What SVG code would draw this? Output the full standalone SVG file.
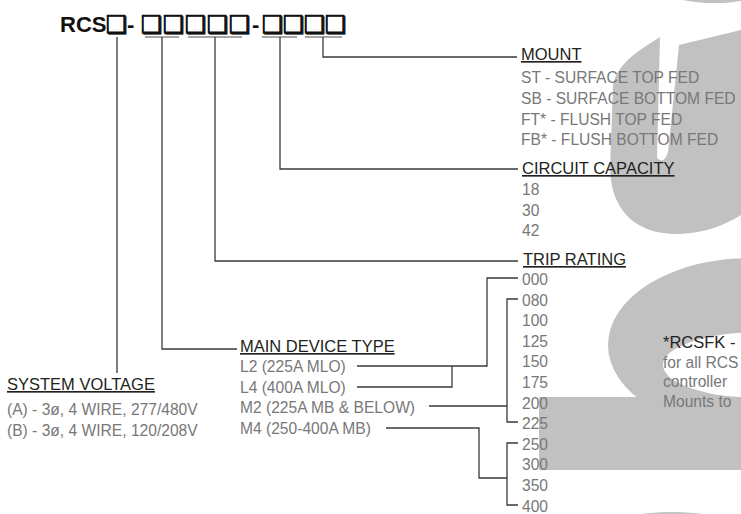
<svg xmlns="http://www.w3.org/2000/svg" width="741" height="514" viewBox="0 0 741 514">
<style>
.h{font-family:"Liberation Sans",Arial,sans-serif;font-size:16.5px;fill:#231f20;text-decoration:underline}
.i{font-family:"Liberation Sans",Arial,sans-serif;font-size:15.6px;fill:#787878}
.n{font-family:"Liberation Sans",Arial,sans-serif;font-size:16.5px;fill:#231f20}
.c{fill:none;stroke:#3a3a3a;stroke-width:1.3}
.u{fill:none;stroke:#8a8a8a;stroke-width:1.6}
.bg{fill:#c1c1c1}
.bx{font-family:"DejaVu Sans",sans-serif;font-weight:bold;font-size:24px;fill:#111;stroke:#111;stroke-width:0.9}
</style>
<rect width="741" height="514" fill="#ffffff"/>
<g id="background">
<ellipse class="bg" cx="715" cy="-42" rx="90" ry="45"/>
<path class="bg" d="M660,37 C640,50 618,62 613,85 L610,170 C612,215 640,235 680,234 C705,233 725,225 741,215 L741,30 L679,45 L668,152 Q664,165 657,158 Z"/>
<ellipse class="bg" cx="750" cy="345" rx="142" ry="87"/>
<ellipse cx="760" cy="365" rx="97" ry="33" fill="#ffffff"/>
<rect class="bg" x="539" y="397" width="202" height="73"/>
<ellipse class="bg" cx="672" cy="560" rx="110" ry="48"/>
</g>
<g id="header">
<text font-family="'Liberation Sans',Arial,sans-serif" font-weight="bold" font-size="22" fill="#111" y="32"><tspan x="60">RCS</tspan><tspan x="127">-</tspan><tspan x="252">-</tspan></text>
<text class="bx" y="33"><tspan x="106">❑</tspan><tspan x="141">❑</tspan><tspan x="163">❑</tspan><tspan x="185">❑</tspan><tspan x="207">❑</tspan><tspan x="229">❑</tspan><tspan x="262">❑</tspan><tspan x="283">❑</tspan><tspan x="304">❑</tspan><tspan x="325">❑</tspan></text>
<path class="u" d="M145,37H179M188,37H242M262,37H297M305,37H342"/>
</g>
<g id="connectors">
<path class="c" d="M117,37V373"/>
<path class="c" d="M162,37V349H237"/>
<path class="c" d="M215,37V261H518"/>
<path class="c" d="M280,37V169H518"/>
<path class="c" d="M323,37V57H517"/>
<path class="c" d="M357,366H487V278H518"/>
<path class="c" d="M357,387H452V366"/>
<path class="c" d="M429,406H507M518,299H507V422H518"/>
<path class="c" d="M386,428H479V478H507M518,443H507V505H518"/>
</g>
<g id="mount">
<text class="h" x="521" y="60">MOUNT</text>
<text class="i" x="521" y="83">ST - SURFACE TOP FED</text>
<text class="i" x="521" y="104">SB - SURFACE BOTTOM FED</text>
<text class="i" x="521" y="124.5">FT* - FLUSH TOP FED</text>
<text class="i" x="521" y="145">FB* - FLUSH BOTTOM FED</text>
</g>
<g id="circuit-capacity">
<text class="h" x="522" y="174">CIRCUIT CAPACITY</text>
<text class="i" x="522" y="195">18</text>
<text class="i" x="522" y="215.5">30</text>
<text class="i" x="522" y="236">42</text>
</g>
<g id="trip-rating">
<text class="h" x="523" y="265">TRIP RATING</text>
<text class="i" x="522" y="285">000</text>
<text class="i" x="522" y="305.6">080</text>
<text class="i" x="522" y="326.2">100</text>
<text class="i" x="522" y="346.8">125</text>
<text class="i" x="522" y="367.4">150</text>
<text class="i" x="522" y="388">175</text>
<text class="i" x="522" y="408.6">200</text>
<text class="i" x="522" y="429.2">225</text>
<text class="i" x="522" y="449.8">250</text>
<text class="i" x="522" y="470.4">300</text>
<text class="i" x="522" y="491">350</text>
<text class="i" x="522" y="511.6">400</text>
</g>
<g id="main-device-type">
<text class="h" x="240" y="352">MAIN DEVICE TYPE</text>
<text class="i" x="240" y="372">L2 (225A MLO)</text>
<text class="i" x="240" y="392.5">L4 (400A MLO)</text>
<text class="i" x="240" y="413">M2 (225A MB &amp; BELOW)</text>
<text class="i" x="240" y="433.5">M4 (250-400A MB)</text>
</g>
<g id="system-voltage">
<text class="h" x="7" y="390">SYSTEM VOLTAGE</text>
<text class="i" x="7" y="415">(A) - 3ø, 4 WIRE, 277/480V</text>
<text class="i" x="7" y="436">(B) - 3ø, 4 WIRE, 120/208V</text>
</g>
<g id="note">
<text class="n" x="663" y="348">*RCSFK -</text>
<text class="i" x="663" y="368" fill="#555">for all RCS</text>
<text class="i" x="663" y="387" fill="#555">controller</text>
<text class="i" x="663" y="407" fill="#555">Mounts to</text>
</g>
</svg>
